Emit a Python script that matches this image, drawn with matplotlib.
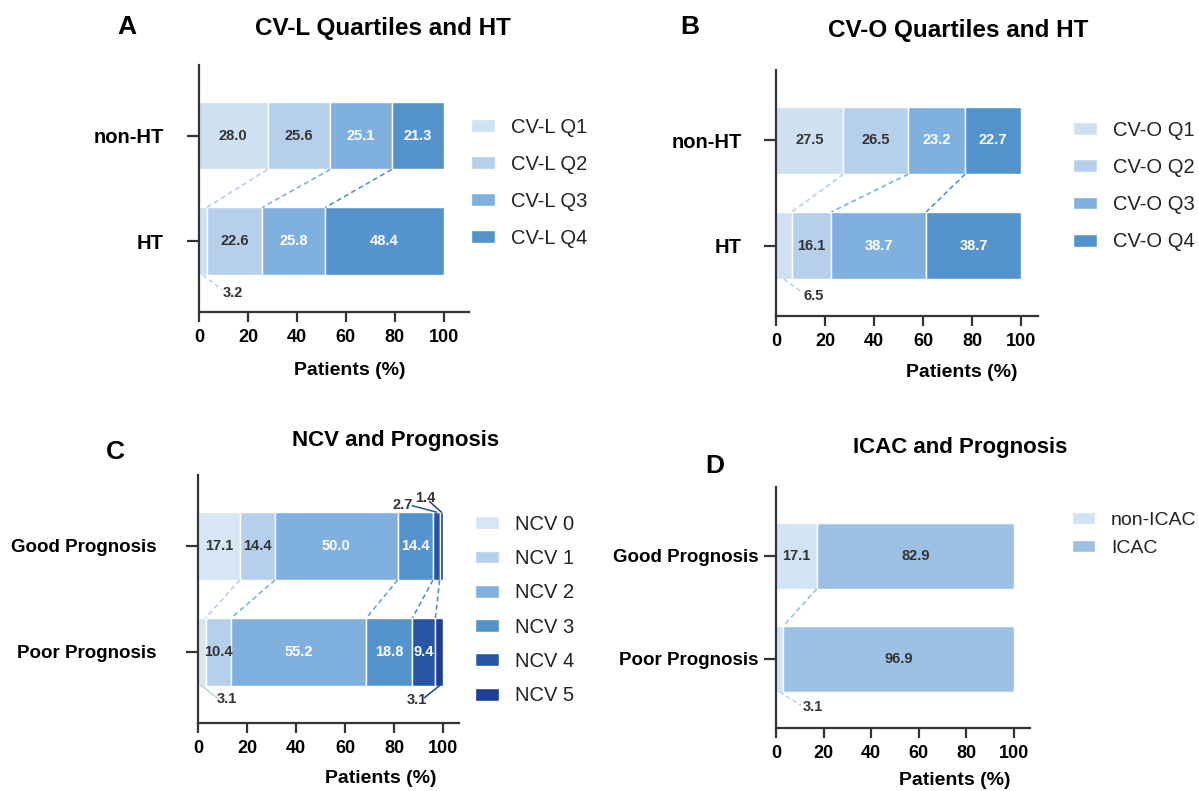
import matplotlib
matplotlib.use('Agg')
import numpy as np
import matplotlib.pyplot as plt

plt.rcParams['font.family'] = ['Liberation Sans', 'DejaVu Sans']

## Data
# A: CV-L quartiles
cvl_groups = ['HT', 'non-HT']
cvl_labels = ['CV-L Q1', 'CV-L Q2', 'CV-L Q3', 'CV-L Q4']
cvl_nonht = [28.0, 25.6, 25.1, 21.3]
cvl_ht = [3.2, 22.6, 25.8, 48.4]

# B: CV-O quartiles
cvo_groups = ['HT', 'non-HT']
cvo_labels = ['CV-O Q1', 'CV-O Q2', 'CV-O Q3', 'CV-O Q4']
cvo_nonht = [27.5, 26.5, 23.2, 22.7]
cvo_ht = [6.5, 16.1, 38.7, 38.7]

# C: NCV
ncv_groups = ['Poor Prognosis', 'Good Prognosis']
ncv_labels = ['NCV 0', 'NCV 1', 'NCV 2', 'NCV 3', 'NCV 4', 'NCV 5']
ncv_good = [17.1, 14.4, 50.0, 14.4, 2.7, 1.4]
ncv_poor = [3.1, 10.4, 55.2, 18.8, 9.4, 3.1]

# D: ICAC
icac_groups = ['Poor Prognosis', 'Good Prognosis']
icac_labels = ['non-ICAC', 'ICAC']
icac_good = [17.1, 82.9]
icac_poor = [3.1, 96.9]

## Styles
quart_colors = ['#cfe0f1', '#b6d0ec', '#80b0de', '#5593cc']
ncv_colors = ['#d6e6f5', '#b6d0ec', '#80b0de', '#5593cc', '#2756a6', '#1f3f96']
icac_colors = ['#d2e3f3', '#9cc1e5']
DARK = '#333333'
H = 0.64


def draw_panel(ax, top_vals, bottom_vals, labels, groups, colors, n_dark, link_colors,
               xmax, ylab_size, ylab_pad):
    top_vals = np.array(top_vals)
    bottom_vals = np.array(bottom_vals)
    left_top = np.concatenate(([0], np.cumsum(top_vals)[:-1]))
    left_bot = np.concatenate(([0], np.cumsum(bottom_vals)[:-1]))
    for i in range(len(labels)):
        ax.barh([0, 1], [bottom_vals[i], top_vals[i]], left=[left_bot[i], left_top[i]],
                height=H, color=colors[i], edgecolor='white', linewidth=1, label=labels[i])
        for y, v, l in [(0, bottom_vals[i], left_bot[i]), (1, top_vals[i], left_top[i])]:
            if v >= 8:
                ax.text(l + v / 2, y, f'{v:.1f}', ha='center', va='center',
                        fontsize=10.5, fontweight='bold',
                        color=DARK if i < n_dark else 'white')
    # dashed links between the two bars
    for i in range(len(labels) - 1):
        ax.plot([left_top[i + 1], left_bot[i + 1]], [1 - H / 2, H / 2], ls=(0, (3, 2)),
                lw=1.2, color=link_colors[i])

    ax.set_xlim(0, xmax)
    ax.set_ylim(-0.67, 1.67)
    ax.set_xticks([0, 20, 40, 60, 80, 100])
    ax.set_yticks([0, 1])
    ax.set_yticklabels(groups)
    for s in ['top', 'right']:
        ax.spines[s].set_visible(False)
    for s in ['left', 'bottom']:
        ax.spines[s].set_linewidth(1.6)
        ax.spines[s].set_color(DARK)
    ax.tick_params(axis='x', length=7, width=1.6, color=DARK, pad=5, labelsize=13)
    ax.tick_params(axis='y', length=8.5, width=1.6, color=DARK, pad=ylab_pad,
                   labelsize=ylab_size)
    for t in ax.get_xticklabels() + ax.get_yticklabels():
        t.set_fontweight('bold')
    ax.set_xlabel('Patients (%)', fontsize=14, fontweight='bold', va='center')
    return left_top, left_bot


def note(ax, x0, y0, x1, y1, tx, ty, text, color, ls):
    ax.plot([x0, x1], [y0, y1], ls=ls, lw=1.1, color=color, clip_on=False)
    ax.text(tx, ty, text, ha='center', va='center', fontsize=10.5,
            fontweight='bold', color=DARK)


fig = plt.figure(figsize=(11.99, 7.91), dpi=100)

axA = fig.add_axes([0.166, 0.6056, 0.225, 0.3123])
axB = fig.add_axes([0.6472, 0.6005, 0.2185, 0.311])
axC = fig.add_axes([0.1651, 0.086, 0.2177, 0.3135])
axD = fig.add_axes([0.6472, 0.0797, 0.2118, 0.3047])

draw_panel(axA, cvl_nonht, cvl_ht, cvl_labels, cvl_groups, quart_colors, 2,
           quart_colors[1:], 110.2, 14.5, 17)
draw_panel(axB, cvo_nonht, cvo_ht, cvo_labels, cvo_groups, quart_colors, 2,
           quart_colors[1:], 106.9, 14.5, 16)
draw_panel(axC, ncv_good, ncv_poor, ncv_labels, ncv_groups, ncv_colors, 2,
           ['#b6d0ec', '#80b0de', '#6aa2d6', '#5593cc', '#5593cc'], 106.5, 13.5, 21)
draw_panel(axD, icac_good, icac_poor, icac_labels, icac_groups, icac_colors, 2,
           ['#9cc1e5'], 106.7, 13.5, 4)

# small segments labelled outside
note(axA, cvl_ht[0] / 2, -H / 2, 9.3, -0.46, 13.9, -0.49, f'{cvl_ht[0]:.1f}', '#b6d0ec', (0, (3, 2)))
note(axB, cvo_ht[0] / 2, -H / 2, 10.5, -0.44, 15.5, -0.48, f'{cvo_ht[0]:.1f}', '#b6d0ec', (0, (3, 2)))
note(axD, icac_poor[0] / 2, -H / 2, 10.5, -0.45, 15.5, -0.466, f'{icac_poor[0]:.1f}', '#b6d0ec', (0, (3, 2)))
note(axC, ncv_poor[0] / 2, -H / 2, 8.2, -0.44, 11.7, -0.447, f'{ncv_poor[0]:.1f}', '#b6d0ec', '-')
good_left = np.cumsum(ncv_good) - np.array(ncv_good)
poor_left = np.cumsum(ncv_poor) - np.array(ncv_poor)
note(axC, poor_left[5] + ncv_poor[5] / 2, -H / 2, 92.5, -0.43, 89.3, -0.457,
     f'{ncv_poor[5]:.1f}', '#1f3f96', '-')
note(axC, good_left[4] + ncv_good[4] / 2, 1 + H / 2, 87.5, 1 + H / 2 + 0.06, 83.5, 1.39,
     f'{ncv_good[4]:.1f}', '#2756a6', '-')
note(axC, good_left[5] + ncv_good[5] / 2, 1 + H / 2, 94.5, 1.42, 92.7, 1.45,
     f'{ncv_good[5]:.1f}', '#1f3f96', '-')

# x label positions
axA.xaxis.set_label_coords(0.56, -0.235)
axB.xaxis.set_label_coords(0.71, -0.228)
axC.xaxis.set_label_coords(0.70, -0.222)
axD.xaxis.set_label_coords(0.705, -0.216)

# legends
leg_kw = dict(loc='center left', bbox_transform=fig.transFigure, frameon=False,
              handlelength=1.2, handleheight=0.6, handletextpad=0.8,
              borderpad=0, borderaxespad=0, labelcolor='#222222')
axA.legend(bbox_to_anchor=(0.3928, 0.769), labelspacing=0.9, fontsize=14.5, **leg_kw)
axB.legend(bbox_to_anchor=(0.895, 0.7648), labelspacing=0.9, fontsize=14.5, **leg_kw)
axC.legend(bbox_to_anchor=(0.396, 0.2288), labelspacing=0.76, fontsize=14.5, **leg_kw)
axD.legend(bbox_to_anchor=(0.894, 0.3243), labelspacing=0.55, fontsize=14, **leg_kw)

# titles and panel letters
fig.text(383 / 1199, 1 - 28 / 791, 'CV-L Quartiles and HT', ha='center', va='center',
         fontsize=17.5, fontweight='bold')
fig.text(958 / 1199, 1 - 30 / 791, 'CV-O Quartiles and HT', ha='center', va='center',
         fontsize=17.5, fontweight='bold')
fig.text(396 / 1199, 1 - 440 / 791, 'NCV and Prognosis', ha='center', va='center',
         fontsize=16, fontweight='bold')
fig.text(960 / 1199, 1 - 448 / 791, 'ICAC and Prognosis', ha='center', va='center',
         fontsize=16, fontweight='bold')
for letter, x, y in [('A', 127, 27), ('B', 690, 27), ('C', 115, 452), ('D', 715, 466)]:
    fig.text(x / 1199, 1 - y / 791, letter, ha='center', va='center',
             fontsize=19, fontweight='bold')

fig.savefig('out.png', dpi=100)
